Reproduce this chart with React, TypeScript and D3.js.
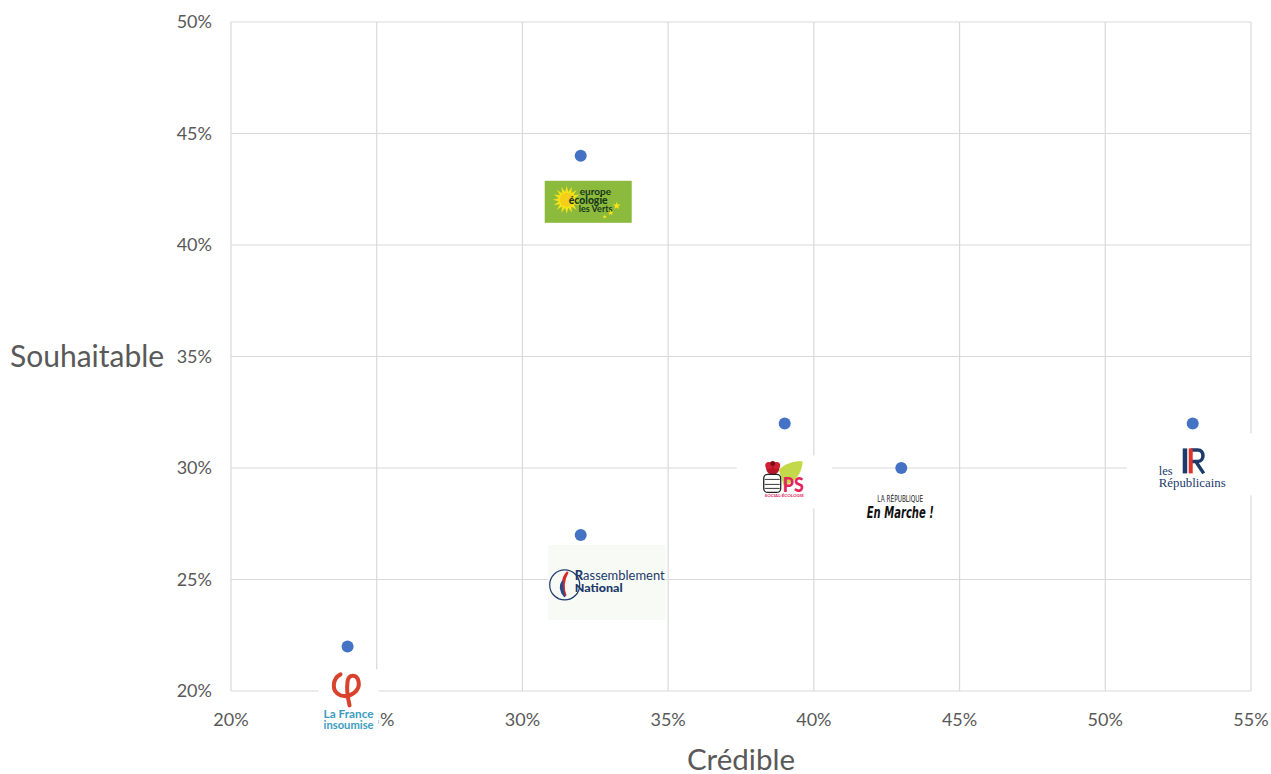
import React from "react";
import * as d3 from "d3";

// Crédible (x) / Souhaitable (y), in %
const parties = ["LFI", "EELV", "RN", "PS", "LREM", "LR"];
const credible = [24, 32, 32, 39, 43, 53];
const souhaitable = [22, 44, 27, 32, 30, 32];
const xTicks = [20, 25, 30, 35, 40, 45, 50, 55];
const yTicks = [20, 25, 30, 35, 40, 45, 50];

const W = 1271;
const H = 774;
const margin = { top: 22, right: 20, bottom: 83, left: 231 };

const FONT = "Lato, 'Open Sans', sans-serif";
const GRID = "#d9d9d9";
const LABEL = "#595959";
const NAVY = "#1d3a6b";

const x = d3.scaleLinear().domain([20, 55]).range([margin.left, W - margin.right]);
const y = d3.scaleLinear().domain([20, 50]).range([H - margin.bottom, margin.top]);

// star polygon for the logo decorations
const starPoints = (cx: number, cy: number, n: number, r1: number, r2: number) =>
  d3
    .range(n * 2)
    .map((i) => {
      const a = (Math.PI * i) / n - Math.PI / 2;
      const r = i % 2 === 0 ? r1 : r2;
      return `${cx + r * Math.cos(a)},${cy + r * Math.sin(a)}`;
    })
    .join(" ");

const Logo = ({ id, px, py }: { id: string; px: number; py: number }) => {
  if (id === "EELV") {
    return (
      <g transform={`translate(${px - 36},${py + 25})`}>
        <rect width={87} height={42} fill="#8cba3c" />
        <polygon points={starPoints(22, 19, 16, 14, 8)} fill="#f7e316" />
        <circle cx={22} cy={19} r={7} fill="#f4cf1a" />
        <text x={35} y={14} fontSize={10} fill="#17361a" fontFamily={FONT} fontWeight={700}>europe</text>
        <text x={24} y={23} fontSize={11} fill="#17361a" fontFamily={FONT} fontWeight={900} textLength={39} lengthAdjust="spacingAndGlyphs">écologie</text>
        <text x={34} y={31} fontSize={9} fill="#17361a" fontFamily={FONT} fontWeight={700}>les Verts</text>
        <polygon points={starPoints(72, 25, 5, 4, 1.7)} fill="#f7e316" />
        <polygon points={starPoints(66, 32, 5, 3, 1.3)} fill="#f7e316" />
        <polygon points={starPoints(60, 36, 5, 2.2, 1)} fill="#f7e316" />
      </g>
    );
  }
  if (id === "RN") {
    return (
      <g transform={`translate(${px - 33},${py + 10})`}>
        <rect width={118} height={75} fill="#f8faf6" />
        <circle cx={17} cy={40} r={15} fill="none" stroke={NAVY} strokeWidth={1.2} />
        <path d="M20,27 C13,34 15,42 18,51 C15,44 15,36 20,27 Z" fill="#d62a2a" stroke="#d62a2a" strokeWidth={2} />
        <path d="M15,36 C11,41 13,47 17,52 C15,46 14,41 15,36 Z" fill="#2a4a8a" stroke="#2a4a8a" strokeWidth={1.5} />
        <text x={27} y={35} fontSize={12.5} fill={NAVY} fontFamily={FONT} textLength={90} lengthAdjust="spacingAndGlyphs">
          <tspan fontWeight={900}>R</tspan>assemblement
        </text>
        <text x={27} y={47} fontSize={12} fill={NAVY} fontFamily={FONT} fontWeight={900} textLength={48} lengthAdjust="spacingAndGlyphs">National</text>
      </g>
    );
  }
  if (id === "PS") {
    return (
      <g transform={`translate(${px - 48},${py + 32})`}>
        <rect width={95} height={53} fill="#ffffff" />
        <path d="M42,14 C50,7 60,5 66,6 C65,19 58,27 47,30 Z" fill="#c4d94a" />
        <circle cx={36} cy={13} r={6.5} fill="#b8152a" />
        <circle cx={32} cy={10} r={3.5} fill="#d11f33" />
        <circle cx={40} cy={10} r={3.5} fill="#d11f33" />
        <circle cx={36} cy={8} r={2.5} fill="#7a0d1a" />
        <rect x={27} y={19} width={17} height={18} rx={4} fill="#ffffff" stroke="#222" strokeWidth={1.3} />
        <line x1={28} y1={24} x2={43} y2={24} stroke="#222" strokeWidth={0.9} />
        <line x1={28} y1={29} x2={43} y2={29} stroke="#222" strokeWidth={0.9} />
        <line x1={28} y1={33} x2={43} y2={33} stroke="#222" strokeWidth={0.9} />
        <text x={46} y={37} fontSize={20} fill="#e2245a" fontFamily={FONT} fontWeight={900} textLength={21} lengthAdjust="spacingAndGlyphs">PS</text>
        <text x={28} y={42} fontSize={4.5} fill="#e2245a" fontFamily={FONT} fontWeight={700} textLength={39} lengthAdjust="spacingAndGlyphs">SOCIAL-ÉCOLOGIE</text>
      </g>
    );
  }
  if (id === "LREM") {
    return (
      <g>
        <text x={px - 1} y={py + 34} fontSize={8} textAnchor="middle" fill="#222" fontFamily="'Liberation Sans Narrow', 'DejaVu Sans Condensed', sans-serif" textLength={46} lengthAdjust="spacingAndGlyphs">LA RÉPUBLIQUE</text>
        <text x={px - 1} y={py + 50} fontSize={15.5} textAnchor="middle" fill="#111" fontFamily="'Liberation Sans Narrow', 'DejaVu Sans Condensed', sans-serif" fontWeight={700} fontStyle="italic" textLength={67} lengthAdjust="spacingAndGlyphs">En Marche !</text>
      </g>
    );
  }
  if (id === "LR") {
    return (
      <g transform={`translate(${px - 66},${py + 10})`}>
        <rect width={130} height={62} fill="#ffffff" />
        <rect x={56} y={15} width={4.5} height={25} fill={NAVY} />
        <path d="M64,16.5 L71,16.5 C78,16.5 78,28 71,28 L64,28 M69,28 L77,40" fill="none" stroke={NAVY} strokeWidth={3.5} />
        <rect x={62} y={15} width={4} height={25} fill="#e0322d" />
        <text x={32} y={42} fontSize={12.5} fill={NAVY} fontFamily="'Liberation Serif', serif">les</text>
        <text x={32} y={54} fontSize={12.5} fill={NAVY} fontFamily="'Liberation Serif', serif" textLength={67} lengthAdjust="spacingAndGlyphs">Républicains</text>
      </g>
    );
  }
  if (id === "LFI") {
    return (
      <g transform={`translate(${px - 29},${py + 23})`}>
        <rect width={60} height={66} fill="#ffffff" />
        <path
          d="M22,5 C14,9 12,22 22,26 C32,29 42,21 40,12 C38,4 30,5 29,12 C28,19 29,28 31,36"
          fill="none"
          stroke="#d8432d"
          strokeWidth={4}
          strokeLinecap="round"
        />
        <text x={30} y={49} fontSize={11} textAnchor="middle" fill="#3a9cc0" fontFamily={FONT} fontWeight={700} textLength={50} lengthAdjust="spacingAndGlyphs">La France</text>
        <text x={30} y={60} fontSize={11} textAnchor="middle" fill="#3a9cc0" fontFamily={FONT} fontWeight={700} textLength={50} lengthAdjust="spacingAndGlyphs">insoumise</text>
      </g>
    );
  }
  return null;
};

export default function App() {
  const [x0, x1] = x.range();
  const [y0, y1] = y.range();

  return (
    <div style={{ position: "absolute", left: 0, top: 0 }}>
      <svg width={W} height={H} style={{ display: "block", background: "#ffffff" }}>
        {/* grid */}
        {xTicks.map((t) => (
          <line key={`gx${t}`} x1={x(t)} x2={x(t)} y1={y1} y2={y0} stroke={GRID} strokeWidth={1.2} />
        ))}
        {yTicks.map((t) => (
          <line key={`gy${t}`} x1={x0} x2={x1} y1={y(t)} y2={y(t)} stroke={GRID} strokeWidth={1.2} />
        ))}

        {/* tick labels */}
        {xTicks.map((t) => (
          <text key={`tx${t}`} x={x(t)} y={y0 + 35} textAnchor="middle" fontSize={18} fill={LABEL} fontFamily={FONT}>
            {t}%
          </text>
        ))}
        {yTicks.map((t) => (
          <text key={`ty${t}`} x={x0 - 19} y={y(t) + 6} textAnchor="end" fontSize={18} fill={LABEL} fontFamily={FONT}>
            {t}%
          </text>
        ))}

        {/* axis titles */}
        <text x={(x0 + x1) / 2} y={770} textAnchor="middle" fontSize={29.5} fill={LABEL} fontFamily={FONT}>
          Crédible
        </text>
        <text x={10} y={367} fontSize={30} fill={LABEL} fontFamily={FONT}>
          Souhaitable
        </text>

        {/* points */}
        {parties.map((p, i) => (
          <circle key={`pt${p}`} cx={x(credible[i])} cy={y(souhaitable[i])} r={6} fill="#4472c4" />
        ))}

        {/* party logos */}
        {parties.map((p, i) => (
          <Logo key={`lg${p}`} id={p} px={x(credible[i])} py={y(souhaitable[i])} />
        ))}
      </svg>
    </div>
  );
}
